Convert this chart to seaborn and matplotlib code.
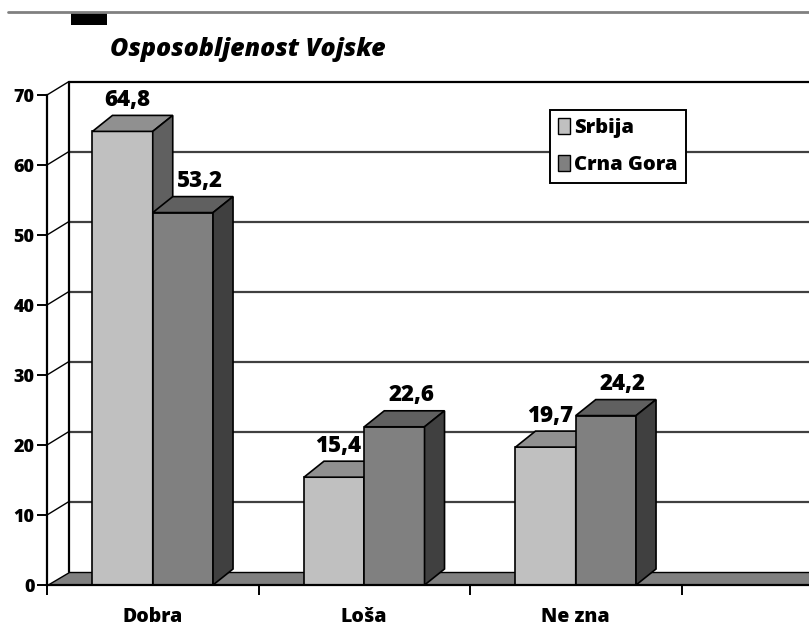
import matplotlib
matplotlib.use('Agg')
import matplotlib.pyplot as plt
import seaborn as sns
import pandas as pd
from matplotlib.patches import Polygon, Rectangle, Patch
from matplotlib.lines import Line2D

categories = ['Dobra', 'Loša', 'Ne zna']
series = ['Srbija', 'Crna Gora']
srbija = [64.8, 15.4, 19.7]
crna_gora = [53.2, 22.6, 24.2]
yticks = [0, 10, 20, 30, 40, 50, 60, 70]
title = 'Osposobljenost Vojske'

front_colors = ['#c0c0c0', '#808080']
top_colors = ['#909090', '#606060']
side_colors = ['#606060', '#404040']

df = pd.DataFrame({
    'kategorija': categories * 2,
    'serija': [series[0]] * 3 + [series[1]] * 3,
    'vrednost': srbija + crna_gora,
})

sns.set_style('white')
plt.rcParams['font.family'] = ['Open Sans', 'DejaVu Sans']
plt.rcParams['text.color'] = 'black'
plt.rcParams['xtick.color'] = 'black'
plt.rcParams['ytick.color'] = 'black'
WT = 'heavy'

W, H = 809, 634
fig = plt.figure(figsize=(W / 100, H / 100), dpi=100)
# front plane of the plot in pixels
x0px, y0px, y70px = 47, 585, 95
ax = fig.add_axes([x0px / W, 1 - y0px / H, (W - x0px) / W, (y0px - y70px) / H])

pxx = 211.5            # pixels per category
pxy = (y0px - y70px) / 70.0
xmin = -0.5
xmax = xmin + (W - x0px) / pxx

# depth of walls and bars in data units
dxw, dyw = 22 / pxx, 13.5 / pxy
dxb, dyb = 20 / pxx, 16 / pxy

sns.barplot(data=df, x='kategorija', y='vrednost', hue='serija', order=categories,
            hue_order=series, palette=front_colors, width=0.57, gap=0,
            edgecolor='black', linewidth=1.2, legend=False, ax=ax)

ax.set_xlim(xmin, xmax)
ax.set_ylim(0, 70)
ax.set_xlabel('')
ax.set_ylabel('')

# back wall + side wall
wall_x = xmin + dxw
for v in yticks[1:]:
    col = 'black' if v == 70 else '#404040'
    ax.add_line(Line2D([wall_x, xmax + 1], [v + dyw, v + dyw], color=col, lw=1.6,
                       zorder=1, clip_on=False))
    ax.add_line(Line2D([xmin, wall_x], [v, v + dyw], color='black', lw=1.0,
                       zorder=1, clip_on=False))
ax.add_line(Line2D([wall_x, wall_x], [dyw, 70 + dyw], color='black', lw=1.6,
                   zorder=1, clip_on=False))

# floor
ax.add_patch(Polygon([(xmin, 0), (xmax + 1, 0), (xmax + 1, dyw), (wall_x, dyw)],
                     closed=True, facecolor='#808080', edgecolor='black', lw=1.0,
                     zorder=1.5))

# 3d tops and sides of the bars, value labels
label_shift = [0.02, 0.08]
for i, cont in enumerate(ax.containers):
    vals = [srbija, crna_gora][i]
    for bar, v in zip(cont, vals):
        bar.set_zorder(3 + i)
        bx = bar.get_x()
        bw = bar.get_width()
        h = bar.get_height()
        top = Polygon([(bx, h), (bx + bw, h), (bx + bw + dxb, h + dyb), (bx + dxb, h + dyb)],
                      closed=True, facecolor=top_colors[i], edgecolor='black', lw=1.2,
                      zorder=3 + i, clip_on=False)
        side = Polygon([(bx + bw, 0), (bx + bw + dxb, dyb), (bx + bw + dxb, h + dyb), (bx + bw, h)],
                       closed=True, facecolor=side_colors[i], edgecolor='black', lw=1.2,
                       zorder=3 + i, clip_on=False)
        ax.add_patch(top)
        ax.add_patch(side)
        ax.text(bx + bw / 2 + label_shift[i], h + 4.5, f'{v:.1f}'.replace('.', ','),
                ha='center', va='center', fontsize=16, fontweight=WT, zorder=10)

# axes styling
for s in ['top', 'right']:
    ax.spines[s].set_visible(False)
for s in ['left', 'bottom']:
    ax.spines[s].set_color('black')
    ax.spines[s].set_linewidth(1.6)
    ax.spines[s].set_zorder(6)

ax.set_yticks(yticks)
ax.set_yticklabels([str(t) for t in yticks], fontsize=13, fontweight=WT)
ax.tick_params(axis='y', direction='out', length=7, width=1.4, pad=2, left=True)

ax.set_xticks([xmin + k for k in range(4)])
ax.set_xticklabels([])
ax.set_xticks(range(len(categories)), minor=True)
ax.set_xticklabels(categories, minor=True, fontsize=14, fontweight=WT)
ax.tick_params(axis='x', which='major', direction='out', length=7, width=1.4, bottom=True)
ax.tick_params(axis='x', which='minor', length=0, pad=16)

# legend
handles = [Patch(facecolor=front_colors[k], edgecolor='black', lw=1.0, label=series[k])
           for k in range(2)]
leg = ax.legend(handles=handles, loc='upper left', bbox_to_anchor=(550 / W, 1 - 110 / H),
                bbox_transform=fig.transFigure, frameon=True, fancybox=False,
                edgecolor='black', framealpha=1, borderaxespad=0, handlelength=0.6,
                handleheight=0.8, handletextpad=0.2, borderpad=0.4, labelspacing=0.85,
                prop={'weight': WT, 'size': 14.5})
leg.get_frame().set_linewidth(1.4)
leg.set_zorder(8)

# header decorations and title
fig.add_artist(Line2D([8 / W, 1], [1 - 12 / H, 1 - 12 / H], color='#808080', lw=2))
fig.add_artist(Rectangle((71 / W, 1 - 25 / H), 36 / W, 12 / H, facecolor='black',
                         edgecolor='none'))
fig.text(110 / W, 1 - 49 / H, title, fontsize=18, fontweight=WT, style='italic',
         ha='left', va='center')

fig.savefig('out.png', dpi=100)
